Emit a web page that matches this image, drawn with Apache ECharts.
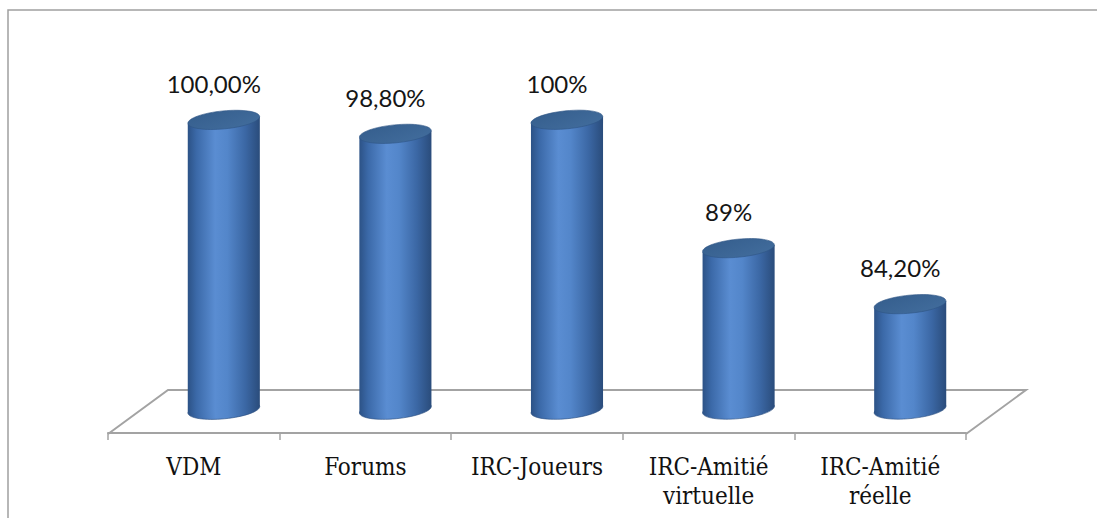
<!DOCTYPE html>
<html>
<head>
<meta charset="utf-8">
<script src="https://cdn.jsdelivr.net/npm/echarts@6/dist/echarts.min.js"></script>
<style>
  html, body { margin: 0; padding: 0; background: #fff; }
  #chart { width: 1097px; height: 518px; }
</style>
</head>
<body>
<div id="chart"></div>
<script>
// Categories, values and the value labels as printed above each cylinder
const categories = ['VDM', 'Forums', 'IRC-Joueurs', 'IRC-Amitié\nvirtuelle', 'IRC-Amitié\nréelle'];
const values = [100, 98.8, 100, 89, 84.2];
const valueLabels = ['100,00%', '98,80%', '100%', '89%', '84,20%'];

const yMin = 75;
const yMax = 100;

// Perspective offset between the bar plane and the front/back edges of the floor
const DEPTH_X = 30;
const DEPTH_Y = 22;

const bodyGradient = () => new echarts.graphic.LinearGradient(0, 0, 1, 0, [
  { offset: 0, color: '#2c5286' },
  { offset: 0.12, color: '#3b69a8' },
  { offset: 0.38, color: '#5a8dd2' },
  { offset: 0.55, color: '#5386ca' },
  { offset: 0.8, color: '#3b67a4' },
  { offset: 1, color: '#2a4c7b' }
]);

function renderCylinder(params, api) {
  const i = api.value(0);
  const v = api.value(1);
  const top = api.coord([i, v]);
  const bot = api.coord([i, yMin]);
  const band = api.size([1, 0])[0];
  const cx = top[0];
  const rx = band * 0.21;
  const ry = 9;
  const tilt = 3.5;
  const rot = Math.atan2(2 * tilt, 2 * rx);
  return {
    type: 'group',
    children: [
      {
        type: 'ellipse',
        shape: { cx: cx, cy: bot[1] - 2, rx: rx, ry: ry },
        rotation: rot, originX: cx, originY: bot[1] - 2,
        style: { fill: bodyGradient(), stroke: '#2b4f80', lineWidth: 0.6 }
      },
      {
        type: 'polygon',
        shape: {
          points: [
            [cx - rx, top[1] + tilt], [cx + rx, top[1] - tilt],
            [cx + rx, bot[1] - 2 - tilt], [cx - rx, bot[1] - 2 + tilt]
          ]
        },
        style: { fill: bodyGradient() }
      },
      {
        type: 'ellipse',
        shape: { cx: cx, cy: top[1], rx: rx, ry: ry },
        rotation: rot, originX: cx, originY: top[1],
        style: {
          fill: new echarts.graphic.LinearGradient(0, 0, 1, 1, [
            { offset: 0, color: '#355e8d' },
            { offset: 1, color: '#426d9d' }
          ]),
          stroke: '#2f5585', lineWidth: 0.6
        }
      },
      {
        type: 'text',
        x: cx - 10,
        y: top[1] - 37,
        style: {
          text: valueLabels[params.dataIndex],
          font: '24px Lato, "Open Sans", sans-serif',
          fill: '#151515',
          align: 'center',
          verticalAlign: 'middle'
        }
      }
    ]
  };
}

// Back and side edges of the floor; the front edge is the category axis line
function renderFloor(params, api) {
  const first = api.coord([0, yMin]);
  const band = api.size([1, 0])[0];
  const left = first[0] - band / 2;
  const right = left + categories.length * band;
  const y = first[1];
  return {
    type: 'polyline',
    shape: {
      points: [
        [left - DEPTH_X, y + DEPTH_Y],
        [left + DEPTH_X, y - DEPTH_Y],
        [right + DEPTH_X, y - DEPTH_Y],
        [right - DEPTH_X, y + DEPTH_Y]
      ]
    },
    style: { stroke: '#a3a3a3', lineWidth: 2, fill: null }
  };
}

const chart = echarts.init(document.getElementById('chart'), null, { renderer: 'svg' });

chart.setOption({
  backgroundColor: '#ffffff',
  animation: false,
  graphic: [
    {
      type: 'rect',
      shape: { x: 8, y: 10, width: 1200, height: 600 },
      style: { fill: null, stroke: '#a0a0a0', lineWidth: 1.5 },
      silent: true
    }
  ],
  grid: [
    { left: 138, right: 101, top: 120, bottom: 106 },
    { left: 108, right: 131, top: 300, bottom: 85 }
  ],
  xAxis: [
    {
      gridIndex: 0, type: 'category', data: categories,
      show: false
    },
    {
      gridIndex: 1, type: 'category', data: categories,
      axisLine: { lineStyle: { color: '#a3a3a3', width: 2 } },
      axisTick: { show: true, length: 7, lineStyle: { color: '#a3a3a3', width: 1.5 } },
      axisLabel: {
        interval: 0,
        margin: 19,
        color: '#111111',
        fontFamily: '"DejaVu Serif Condensed", "DejaVu Serif", serif',
        fontSize: 24,
        lineHeight: 29
      }
    }
  ],
  yAxis: [
    { gridIndex: 0, type: 'value', min: yMin, max: yMax, show: false },
    { gridIndex: 1, type: 'value', min: 0, max: 1, show: false }
  ],
  series: [
    {
      type: 'custom',
      xAxisIndex: 0, yAxisIndex: 0,
      clip: false,
      silent: true,
      renderItem: renderFloor,
      data: [[0, yMin]],
      z: 1
    },
    {
      type: 'custom',
      xAxisIndex: 0, yAxisIndex: 0,
      clip: false,
      renderItem: renderCylinder,
      data: values.map((v, i) => [i, v]),
      z: 2
    }
  ]
});
</script>
</body>
</html>
